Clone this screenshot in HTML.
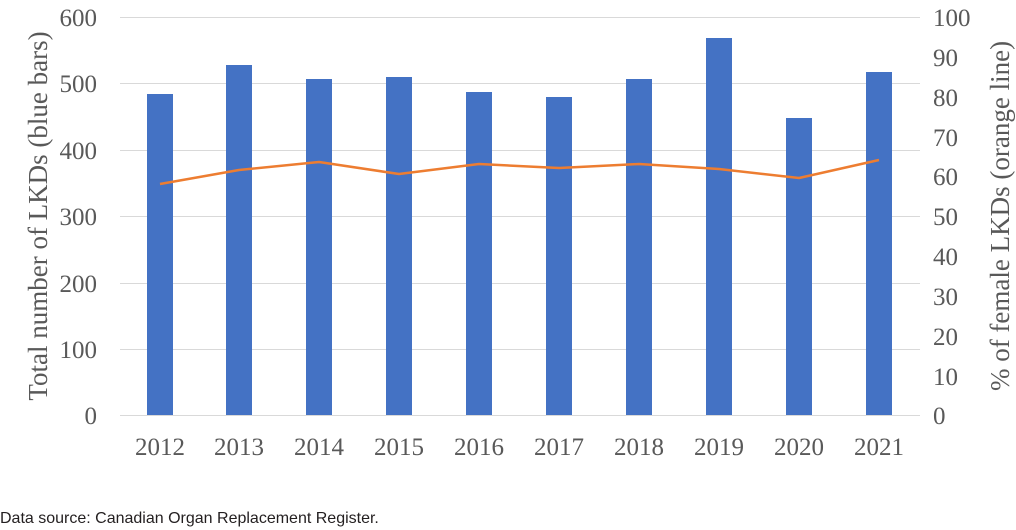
<!DOCTYPE html>
<html><head><meta charset="utf-8"><style>
html,body{margin:0;padding:0;background:#fff;}
svg{display:block;}
</style></head><body>
<svg width="1016" height="530" xmlns="http://www.w3.org/2000/svg">
<g stroke="#d9d9d9" stroke-width="1">
<line x1="120" x2="920" y1="17.5" y2="17.5"/>
<line x1="120" x2="920" y1="83.5" y2="83.5"/>
<line x1="120" x2="920" y1="150.5" y2="150.5"/>
<line x1="120" x2="920" y1="216.5" y2="216.5"/>
<line x1="120" x2="920" y1="283.5" y2="283.5"/>
<line x1="120" x2="920" y1="349.5" y2="349.5"/>
<line x1="120" x2="920" y1="415.5" y2="415.5"/>
</g>
<g fill="#4472c4">
<rect x="147" y="94" width="26" height="321"/>
<rect x="226" y="65" width="26" height="350"/>
<rect x="306" y="79" width="26" height="336"/>
<rect x="386" y="77" width="26" height="338"/>
<rect x="466" y="92" width="26" height="323"/>
<rect x="546" y="97" width="26" height="318"/>
<rect x="626" y="79" width="26" height="336"/>
<rect x="706" y="38" width="26" height="377"/>
<rect x="786" y="118" width="26" height="297"/>
<rect x="866" y="72" width="26" height="343"/>
</g>
<polyline fill="none" stroke="#ed7d31" stroke-width="2.5" stroke-linejoin="round" points="160,184 239,170 319,162 399,174 479,164 559,168 639,164 719,169 799,178 879,160"/>
<g font-family="Liberation Serif, serif" font-size="25" fill="#595959">
<g text-anchor="end">
<text x="97" y="26">600</text><text x="97" y="92">500</text><text x="97" y="159">400</text>
<text x="97" y="225">300</text><text x="97" y="292">200</text><text x="97" y="358">100</text><text x="97" y="424">0</text>
</g>
<g text-anchor="start">
<text x="933" y="26">100</text><text x="933" y="66">90</text><text x="933" y="106">80</text>
<text x="933" y="146">70</text><text x="933" y="185">60</text><text x="933" y="225">50</text>
<text x="933" y="265">40</text><text x="933" y="305">30</text><text x="933" y="345">20</text>
<text x="933" y="385">10</text><text x="933" y="424">0</text>
</g>
<g text-anchor="middle">
<text x="160" y="455">2012</text><text x="239" y="455">2013</text><text x="319" y="455">2014</text>
<text x="399" y="455">2015</text><text x="479" y="455">2016</text><text x="559" y="455">2017</text>
<text x="639" y="455">2018</text><text x="719" y="455">2019</text><text x="799" y="455">2020</text>
<text x="879" y="455">2021</text>
</g>
<text transform="translate(47,216) rotate(-90)" text-anchor="middle" font-size="27">Total number of LKDs (blue bars)</text>
<text transform="translate(1009,216) rotate(-90)" text-anchor="middle" font-size="27">% of female LKDs (orange line)</text>
</g>
<text x="0" y="523" font-family="Liberation Sans, sans-serif" font-size="16" fill="#231f20">Data source: Canadian Organ Replacement Register.</text>
</svg>
</body></html>
